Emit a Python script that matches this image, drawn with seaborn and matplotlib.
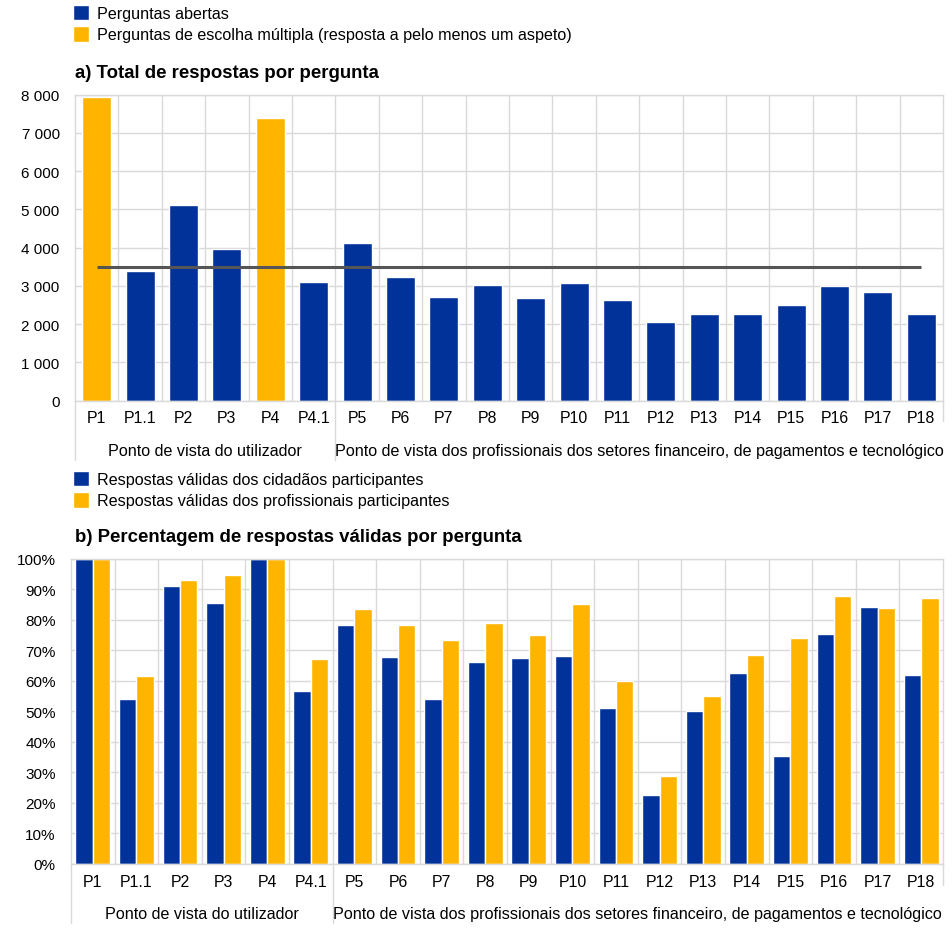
import numpy as np
import pandas as pd
import seaborn as sns
import matplotlib
matplotlib.use("Agg")
import matplotlib.pyplot as plt
from matplotlib.patches import Patch
from matplotlib.lines import Line2D
from matplotlib.transforms import blended_transform_factory
from matplotlib.ticker import FuncFormatter, MultipleLocator

# ---------------- data ----------------
perguntas = ["P1", "P1.1", "P2", "P3", "P4", "P4.1", "P5", "P6", "P7", "P8", "P9",
             "P10", "P11", "P12", "P13", "P14", "P15", "P16", "P17", "P18"]
tipo_pergunta = ["multipla", "aberta", "aberta", "aberta", "multipla", "aberta",
                 "aberta", "aberta", "aberta", "aberta", "aberta", "aberta", "aberta",
                 "aberta", "aberta", "aberta", "aberta", "aberta", "aberta", "aberta"]
total_respostas = [7930, 3400, 5110, 3970, 7380, 3100, 4120, 3230, 2700, 3020, 2690,
                   3080, 2640, 2060, 2260, 2270, 2500, 2990, 2830, 2260]
linha_media = 3500

pct_cidadaos = [100, 54.0, 91.0, 85.4, 100, 56.7, 78.3, 67.7, 54.0, 66.3, 67.6,
                68.0, 51.0, 22.5, 50.2, 62.6, 35.3, 75.2, 84.1, 61.9]
pct_profissionais = [100, 61.5, 92.9, 94.8, 100, 67.1, 83.4, 78.2, 73.3, 78.9, 74.9,
                     85.1, 60.0, 28.8, 55.1, 68.3, 73.9, 87.7, 83.9, 87.0]

grupos = ["Ponto de vista do utilizador",
          "Ponto de vista dos profissionais dos setores financeiro, de pagamentos e tecnológico"]
grupo_inicio_fim = [(0, 5), (6, 19)]

legenda_a = ["Perguntas abertas",
             "Perguntas de escolha múltipla (resposta a pelo menos um aspeto)"]
legenda_b = ["Respostas válidas dos cidadãos participantes",
             "Respostas válidas dos profissionais participantes"]
titulo_a = "a) Total de respostas por pergunta"
titulo_b = "b) Percentagem de respostas válidas por pergunta"

AZUL = "#003299"
LARANJA = "#FFB400"
GRELHA = "#d9d9d9"

sns.set_theme(style="white")
plt.rcParams["font.family"] = ["Liberation Sans", "DejaVu Sans"]
plt.rcParams["text.color"] = "black"

W, H = 952, 937
fig = plt.figure(figsize=(W / 100, H / 100), dpi=100)


def px_axes(l, t, r, b):
    return fig.add_axes([l / W, 1 - b / H, (r - l) / W, (b - t) / H])


FS_TICK = 11
FS_TXT = 11.6


def style_axes(ax, sep_depth_px, ax_h_px):
    ax.set_xlabel("")
    ax.set_ylabel("")
    for s in ax.spines.values():
        s.set_color(GRELHA)
        s.set_linewidth(1.0)
    ax.tick_params(axis="both", length=0, labelsize=FS_TICK, colors="black")
    ax.tick_params(axis="x", pad=7, labelsize=11.4)
    ax.tick_params(axis="y", pad=11)
    ax.set_xlim(-0.5, len(perguntas) - 0.5)
    for i in range(len(perguntas) - 1):
        ax.axvline(i + 0.5, color=GRELHA, lw=1.0, zorder=0)
    ax.yaxis.grid(True, color=GRELHA, lw=1.0)
    ax.set_axisbelow(True)
    tr = blended_transform_factory(ax.transData, ax.transAxes)
    depth = sep_depth_px / ax_h_px
    for xpos in [-0.5, 5.5]:
        ax.add_line(Line2D([xpos, xpos], [0, -depth], transform=tr, color=GRELHA,
                           lw=1.0, clip_on=False))
    ax.add_line(Line2D([19.5, 19.5], [0, -depth * 0.35], transform=tr, color=GRELHA,
                       lw=1.0, clip_on=False))
    for g, (a, b) in zip(grupos, grupo_inicio_fim):
        ax.annotate(g, xy=((a + b) / 2, 0), xycoords=("data", "axes fraction"),
                    xytext=(0, -35.5), textcoords="offset points",
                    ha="center", va="center", fontsize=FS_TXT, color="black")


# ---------------- chart a ----------------
ax1 = px_axes(75, 95.7, 943, 401.7)
df_a = pd.DataFrame({"pergunta": perguntas, "total": total_respostas, "tipo": tipo_pergunta})
sns.barplot(data=df_a, x="pergunta", y="total", hue="tipo",
            hue_order=["aberta", "multipla"], palette=[AZUL, LARANJA],
            dodge=False, width=0.67, saturation=1, legend=False, ax=ax1)
ax1.hlines(linha_media, 0, len(perguntas) - 1, color="#555555", lw=2.2, zorder=5)
ax1.set_ylim(0, 8000)
ax1.yaxis.set_major_locator(MultipleLocator(1000))
ax1.yaxis.set_major_formatter(FuncFormatter(lambda v, p: f"{int(v):,}".replace(",", " ")))
style_axes(ax1, 59, 306)

# ---------------- chart b ----------------
ax2 = px_axes(71, 559.7, 943, 865)
df_b = pd.DataFrame({
    "pergunta": perguntas * 2,
    "pct": pct_cidadaos + pct_profissionais,
    "serie": [legenda_b[0]] * len(perguntas) + [legenda_b[1]] * len(perguntas),
})
sns.barplot(data=df_b, x="pergunta", y="pct", hue="serie", hue_order=legenda_b,
            palette=[AZUL, LARANJA], width=0.8, saturation=1, legend=False, ax=ax2)
ax2.set_ylim(0, 100)
ax2.yaxis.set_major_locator(MultipleLocator(10))
ax2.yaxis.set_major_formatter(FuncFormatter(lambda v, p: f"{int(v)}%"))
style_axes(ax2, 59, 305.3)

# ---------------- legends & titles ----------------
for labels, top in [(legenda_a, 6), (legenda_b, 472)]:
    handles = [Patch(facecolor=AZUL), Patch(facecolor=LARANJA)]
    leg = fig.legend(handles, labels, loc="upper left",
                     bbox_to_anchor=(73 / W, 1 - top / H), frameon=False,
                     fontsize=FS_TXT, handlelength=1.0, handleheight=1.1,
                     handletextpad=0.5, labelspacing=0.3, borderpad=0, borderaxespad=0)
    for t in leg.get_texts():
        t.set_color("black")

fig.text(75 / W, 1 - 73 / H, titulo_a, fontsize=13.4, fontweight="bold", va="center",
         color="black")
fig.text(75 / W, 1 - 538 / H, titulo_b, fontsize=13.4, fontweight="bold", va="center",
         color="black")

fig.savefig("out.png", dpi=100)
